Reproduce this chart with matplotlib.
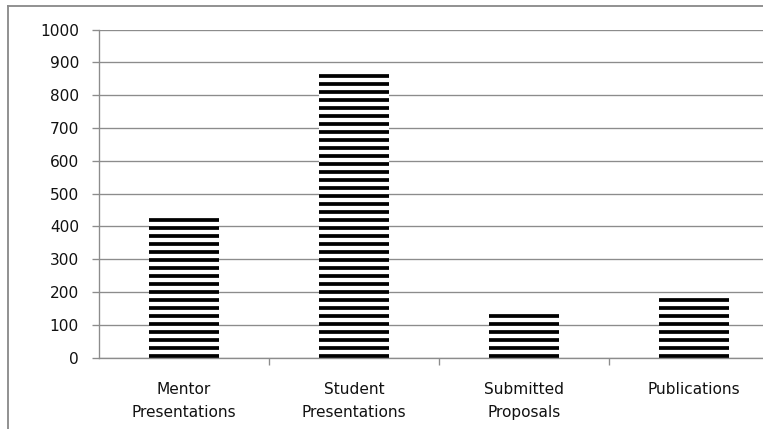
import matplotlib
matplotlib.use("Agg")
import matplotlib.pyplot as plt
from matplotlib.lines import Line2D

categories = ["Mentor\nPresentations", "Student\nPresentations", "Submitted\nProposals", "Publications"]
values = [425, 864, 138, 195]
y_ticks = [0, 100, 200, 300, 400, 500, 600, 700, 800, 900, 1000]

plt.rcParams['font.family'] = ['DejaVu Sans']
plt.rcParams['hatch.linewidth'] = 2.8

W, H, DPI = 763, 429, 96
fig = plt.figure(figsize=(W / DPI, H / DPI), dpi=DPI)
ax = fig.add_axes([99 / W, 1 - 357.5 / H, 680 / W, 328 / H])

x = list(range(len(categories)))
ax.bar(x, values, width=0.41, color='white', edgecolor='black',
       linewidth=0, hatch='--', zorder=3)

ax.set_xlim(-0.5, len(categories) - 0.5)
ax.set_ylim(0, 1000)
ax.set_yticks(y_ticks)
ax.yaxis.grid(True, color='#8c8c8c', linewidth=1.0, zorder=0)
ax.set_axisbelow(True)

ax.set_xticks(x)
ax.set_xticklabels(categories, linespacing=1.7)
ax.set_xticks([i + 0.5 for i in x[:-1]], minor=True)
ax.tick_params(axis='x', which='major', length=0, pad=18, labelsize=11.5, labelcolor='#111111')
ax.tick_params(axis='x', which='minor', length=5, color='#8c8c8c', width=1)
ax.tick_params(axis='y', length=5, color='#8c8c8c', width=1, pad=10, labelsize=11.5, labelcolor='#111111')

for s in ['top', 'right']:
    ax.spines[s].set_visible(False)
for s in ['left', 'bottom']:
    ax.spines[s].set_color('#8c8c8c')
    ax.spines[s].set_linewidth(1.0)

# outer chart frame, cropped at right and bottom
fx, fy = 7.5 / W, 1 - 5.5 / H
fig.add_artist(Line2D([fx, 1.0], [fy, fy], color='#8c8c8c', linewidth=1.4, transform=fig.transFigure))
fig.add_artist(Line2D([fx, fx], [0.0, fy], color='#8c8c8c', linewidth=1.4, transform=fig.transFigure))

fig.savefig('out.png', dpi=DPI)
